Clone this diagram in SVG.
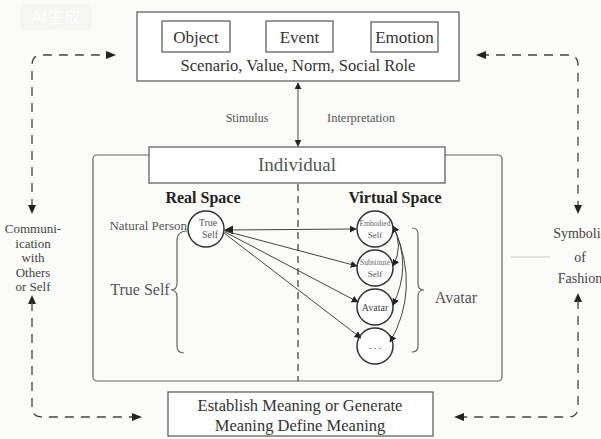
<svg xmlns="http://www.w3.org/2000/svg" width="601" height="439" viewBox="0 0 601 439">
<defs>
<marker id="ah" viewBox="0 0 10 10" refX="9" refY="5" markerWidth="7" markerHeight="7" orient="auto-start-reverse" markerUnits="userSpaceOnUse"><path d="M0,0 L10,5 L0,10 z" fill="#222"/></marker>
<marker id="ahb" viewBox="0 0 10 10" refX="9" refY="5" markerWidth="9" markerHeight="9" orient="auto-start-reverse" markerUnits="userSpaceOnUse"><path d="M0,0 L10,5 L0,10 z" fill="#222"/></marker>
</defs>
<style>
text{font-family:"Liberation Serif","Times New Roman",serif;fill:#333}
.box{fill:#fff;stroke:#555;stroke-width:1.2}
.cir{fill:#fff;stroke:#333;stroke-width:1.5}
.ln{fill:none;stroke:#444;stroke-width:1}
.dash{fill:none;stroke:#444;stroke-width:1.3;stroke-dasharray:9 7}
.br{fill:none;stroke:#666;stroke-width:1.2}
.m{text-anchor:middle}
</style>
<rect width="601" height="439" fill="#fbfbfa"/>
<g id="watermark" opacity="0.5"><rect x="20" y="4" width="72" height="26" rx="6" fill="#f0f0ee"/><text x="56" y="23" class="m" font-size="17" style="fill:#fff;font-family:'Liberation Sans','Noto Sans CJK SC',sans-serif">AI生成</text></g>

<g id="outer"><rect x="93" y="155" width="409" height="226" rx="4" fill="none" stroke="#666" stroke-width="1.2"/></g>

<g id="top-box">
<rect class="box" x="137" y="12" width="322" height="69"/>
<rect class="box" x="162" y="21" width="68" height="31"/>
<text x="196" y="43" class="m" font-size="17">Object</text>
<rect class="box" x="266" y="21" width="67" height="31"/>
<text x="299.5" y="43" class="m" font-size="17">Event</text>
<rect class="box" x="371" y="22" width="67" height="30"/>
<text x="404.5" y="43" class="m" font-size="17">Emotion</text>
<text x="298" y="71" class="m" font-size="16.5">Scenario, Value, Norm, Social Role</text>
</g>

<g id="individual">
<rect class="box" x="149" y="147" width="296" height="36"/>
<text x="297" y="171" class="m" font-size="19" style="fill:#555">Individual</text>
</g>

<g id="labels">
<text x="247" y="122" class="m" font-size="12" style="fill:#555">Stimulus</text>
<text x="361" y="122" class="m" font-size="12.5" style="fill:#555">Interpretation</text>
<text x="203" y="203" class="m" font-size="16" font-weight="bold" style="fill:#222">Real Space</text>
<text x="395" y="203" class="m" font-size="16" font-weight="bold" style="fill:#222">Virtual Space</text>
<text x="187" y="230" text-anchor="end" font-size="13" style="fill:#555">Natural Person</text>
<text x="140" y="295" class="m" font-size="16" style="fill:#555">True Self</text>
<text x="456" y="303" class="m" font-size="16" style="fill:#555">Avatar</text>
</g>

<g id="true-self"><circle class="cir" cx="206" cy="229" r="18"/><text x="208" y="226" class="m" font-size="10" style="fill:#555">True</text><text x="210" y="238" class="m" font-size="10" style="fill:#555">Self</text></g>
<g id="embodied-self"><circle class="cir" cx="375" cy="229" r="18"/><text x="375" y="226" class="m" font-size="7.5" style="fill:#666">Embodied</text><text x="375" y="238" class="m" font-size="9" style="fill:#555">Self</text></g>
<g id="substitute-self"><circle class="cir" cx="375" cy="268" r="18"/><text x="375" y="265" class="m" font-size="7.5" style="fill:#666">Substitute</text><text x="375" y="277" class="m" font-size="9" style="fill:#555">Self</text></g>
<g id="avatar"><circle class="cir" cx="375" cy="307" r="18"/><text x="375" y="311" class="m" font-size="10" style="fill:#444">Avatar</text></g>
<g id="more"><circle class="cir" cx="375" cy="346" r="18"/><text x="375" y="349" class="m" font-size="10" style="fill:#444">. . .</text></g>

<g id="left-label"><text class="m" font-size="13" style="fill:#444"><tspan x="33" y="233">Communi-</tspan><tspan x="33" y="247.5">ication</tspan><tspan x="33" y="262">with</tspan><tspan x="33" y="276.5">Others</tspan><tspan x="33" y="291">or Self</tspan></text></g>
<g id="right-label"><line x1="511" y1="257" x2="550" y2="257" stroke="#ccc" stroke-width="1.2"/><text class="m" font-size="14" style="fill:#444"><tspan x="580" y="238">Symbolic</tspan><tspan x="580" y="262">of</tspan><tspan x="580" y="283">Fashion</tspan></text></g>

<g id="bottom-box">
<rect class="box" x="168" y="392" width="265" height="44"/>
<text x="300" y="411" class="m" font-size="16.5">Establish Meaning or Generate</text>
<text x="300" y="431" class="m" font-size="16.5">Meaning Define Meaning</text>
</g>

<g id="connectors">
<line class="ln" x1="298" y1="83" x2="298" y2="146" marker-start="url(#ah)" marker-end="url(#ah)"/>
<line x1="298" y1="184" x2="298" y2="381" stroke="#444" stroke-width="1.3" stroke-dasharray="7 5"/>
<path class="br" d="M187,231 Q177,231 177,241 L177,283 Q177,290 171,290 Q177,290 177,297 L177,346 Q177,353 184,353"/>
<path class="br" d="M412,228 Q418,228 418,234 L418,284 Q418,290 424,290 Q418,290 418,296 L418,346 Q418,352 412,352"/>
<line class="ln" x1="225" y1="230" x2="356" y2="229" marker-start="url(#ahb)" marker-end="url(#ah)"/>
<line class="ln" x1="225" y1="231" x2="357" y2="266" marker-end="url(#ah)"/>
<line class="ln" x1="225" y1="232" x2="358" y2="302" marker-end="url(#ah)"/>
<line class="ln" x1="224" y1="233" x2="361" y2="338" marker-end="url(#ah)"/>
<path class="ln" d="M393,226 Q404,246 393,266" marker-start="url(#ah)" marker-end="url(#ah)"/>
<path class="ln" d="M394,228 Q412,266 393,305" marker-end="url(#ah)"/>
<path class="ln" d="M395,230 Q420,290 390,342" marker-end="url(#ah)"/>
<path class="dash" d="M32,208 L32,65 Q32,55 42,55 L112,55"/>
<path d="M106,51 L116,55 L106,59 z" fill="#222"/>
<path d="M28,205 L32,214 L36,205 z" fill="#222"/>
<path d="M28,304 L32,295 L36,304 z" fill="#222"/>
<path class="dash" d="M32,302 L32,407 Q32,417 42,417 L138,417"/>
<path d="M132,413 L142,417 L132,421 z" fill="#222"/>
<path class="dash" d="M480,55 L568,55 Q578,55 578,65 L578,208"/>
<path d="M486,51 L476,55 L486,59 z" fill="#222"/>
<path d="M574,205 L578,214 L582,205 z" fill="#222"/>
<path d="M574,302 L578,293 L582,302 z" fill="#222"/>
<path class="dash" d="M578,300 L578,407 Q578,417 568,417 L458,417"/>
<path d="M464,413 L454,417 L464,421 z" fill="#222"/>
</g>
</svg>
